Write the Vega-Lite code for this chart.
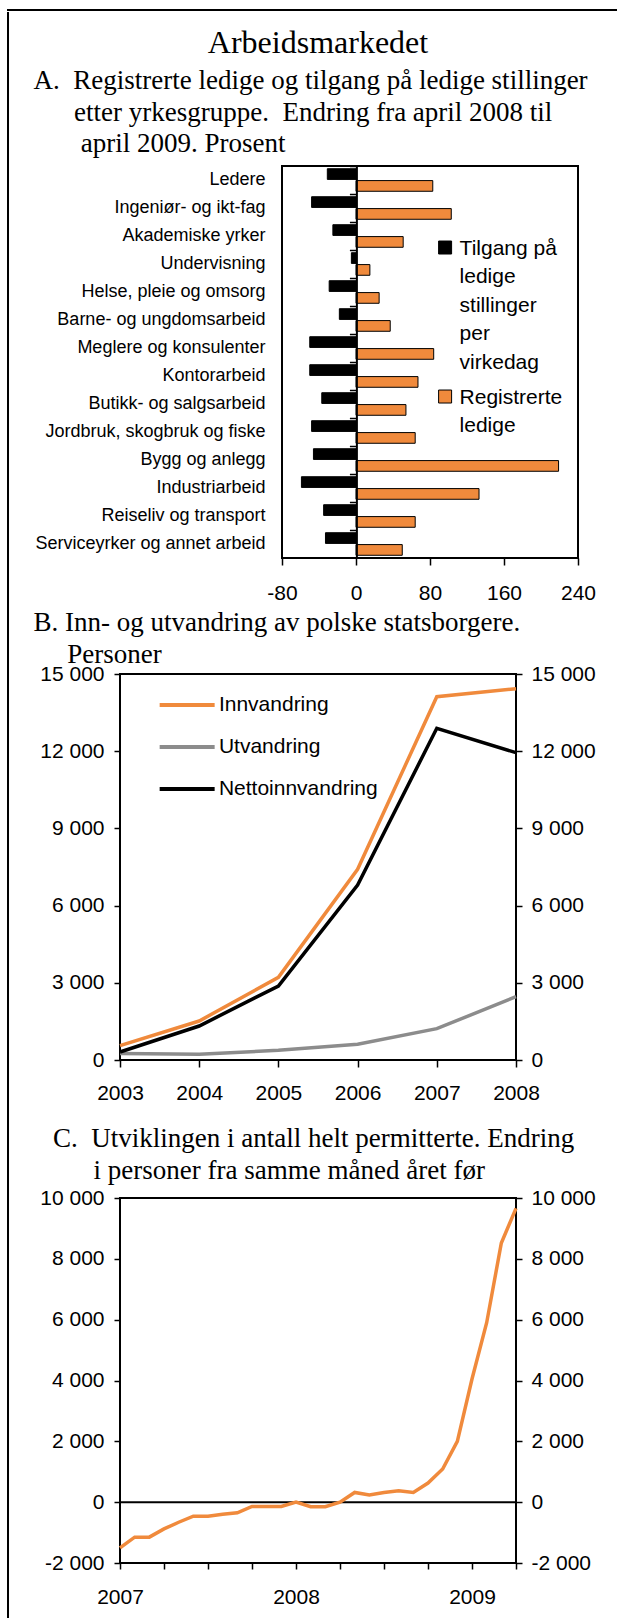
{
  "$schema": "https://vega.github.io/schema/vega-lite/v6.json",
  "padding": {"left": 7, "top": 9, "right": 0, "bottom": 0},
  "background": "white",
  "config": {
    "font": "Liberation Sans",
    "axis": {"labelFont": "Liberation Sans", "labelColor": "black", "labelFontSize": 21, "tickColor": "black", "tickWidth": 1.5, "domainColor": "black", "domainWidth": 2, "grid": false, "labelOverlap": false, "labelLimit": 400, "labelFlush": false},
    "legend": {"labelFont": "Liberation Sans", "labelColor": "black", "labelFontSize": 21, "padding": 0, "labelLimit": 400},
    "title": {"font": "Liberation Serif", "color": "black", "fontWeight": "normal", "fontSize": 27},
    "locale": {"number": {"decimal": ",", "thousands": " ", "grouping": [3], "currency": ["", ""], "minus": "-"}},
    "style": {"guide-label": {"lineHeight": 28.4}}
  },
  "spacing": 0,
  "resolve": {"scale": {"color": "independent"}, "legend": {"color": "independent"}},
  "vconcat": [
    {"width": 608, "height": 0.01, "data": {"values": []}, "mark": "point", "view": {"stroke": "black", "strokeWidth": 2}},
    {
      "spacing": 22,
      "resolve": {"scale": {"color": "independent"}, "legend": {"color": "independent"}},
      "hconcat": [
        {"width": 0.01, "height": 1604, "data": {"values": []}, "mark": "point", "view": {"stroke": "black", "strokeWidth": 2}},
        {
          "spacing": 3,
          "resolve": {"scale": {"color": "independent"}, "legend": {"color": "independent"}},
          "vconcat": [
            {
              "spacing": 7,
              "resolve": {"scale": {"color": "independent"}, "legend": {"color": "independent"}},
              "vconcat": [
                {
                  "width": 396, "height": 15,
                  "data": {"values": []},
                  "mark": "point",
                  "view": {"stroke": null},
                  "title": {"text": "Arbeidsmarkedet", "orient": "bottom", "anchor": "middle", "frame": "group", "fontSize": 32, "offset": 0}
                },
                {
                  "bounds": "flush",
                  "spacing": 0,
                  "resolve": {"scale": {"color": "independent"}, "legend": {"color": "independent"}},
                  "hconcat": [
                    {"width": 162, "height": 392, "data": {"values": []}, "mark": "point", "view": {"stroke": null}},
                    {
                      "width": 296, "height": 392,
                      "title": {"text": ["A.\u00a0\u00a0Registrerte ledige og tilgang på ledige stillinger", "\u200b\u00a0\u00a0\u00a0\u00a0\u00a0\u00a0etter yrkesgruppe.\u00a0\u00a0Endring fra april 2008 til", "\u200b\u00a0\u00a0\u00a0\u00a0\u00a0\u00a0\u00a0april 2009. Prosent"], "anchor": "start", "frame": "group", "dx": -248.5, "lineHeight": 31.5, "offset": 7},
                      "view": {"stroke": "black", "strokeWidth": 2},
                      "data": {"values": [
                        {"yrke": "Ledere", "serie": "Tilgang på ledige stillinger per virkedag", "prosent": -31},
                        {"yrke": "Ledere", "serie": "Registrerte ledige", "prosent": 83},
                        {"yrke": "Ingeniør- og ikt-fag", "serie": "Tilgang på ledige stillinger per virkedag", "prosent": -48},
                        {"yrke": "Ingeniør- og ikt-fag", "serie": "Registrerte ledige", "prosent": 103},
                        {"yrke": "Akademiske yrker", "serie": "Tilgang på ledige stillinger per virkedag", "prosent": -25},
                        {"yrke": "Akademiske yrker", "serie": "Registrerte ledige", "prosent": 51},
                        {"yrke": "Undervisning", "serie": "Tilgang på ledige stillinger per virkedag", "prosent": -5},
                        {"yrke": "Undervisning", "serie": "Registrerte ledige", "prosent": 15},
                        {"yrke": "Helse, pleie og omsorg", "serie": "Tilgang på ledige stillinger per virkedag", "prosent": -29},
                        {"yrke": "Helse, pleie og omsorg", "serie": "Registrerte ledige", "prosent": 25},
                        {"yrke": "Barne- og ungdomsarbeid", "serie": "Tilgang på ledige stillinger per virkedag", "prosent": -18},
                        {"yrke": "Barne- og ungdomsarbeid", "serie": "Registrerte ledige", "prosent": 37},
                        {"yrke": "Meglere og konsulenter", "serie": "Tilgang på ledige stillinger per virkedag", "prosent": -50},
                        {"yrke": "Meglere og konsulenter", "serie": "Registrerte ledige", "prosent": 84},
                        {"yrke": "Kontorarbeid", "serie": "Tilgang på ledige stillinger per virkedag", "prosent": -50},
                        {"yrke": "Kontorarbeid", "serie": "Registrerte ledige", "prosent": 67},
                        {"yrke": "Butikk- og salgsarbeid", "serie": "Tilgang på ledige stillinger per virkedag", "prosent": -37},
                        {"yrke": "Butikk- og salgsarbeid", "serie": "Registrerte ledige", "prosent": 54},
                        {"yrke": "Jordbruk, skogbruk og fiske", "serie": "Tilgang på ledige stillinger per virkedag", "prosent": -48},
                        {"yrke": "Jordbruk, skogbruk og fiske", "serie": "Registrerte ledige", "prosent": 64},
                        {"yrke": "Bygg og anlegg", "serie": "Tilgang på ledige stillinger per virkedag", "prosent": -46},
                        {"yrke": "Bygg og anlegg", "serie": "Registrerte ledige", "prosent": 219},
                        {"yrke": "Industriarbeid", "serie": "Tilgang på ledige stillinger per virkedag", "prosent": -59},
                        {"yrke": "Industriarbeid", "serie": "Registrerte ledige", "prosent": 133},
                        {"yrke": "Reiseliv og transport", "serie": "Tilgang på ledige stillinger per virkedag", "prosent": -35},
                        {"yrke": "Reiseliv og transport", "serie": "Registrerte ledige", "prosent": 64},
                        {"yrke": "Serviceyrker og annet arbeid", "serie": "Tilgang på ledige stillinger per virkedag", "prosent": -33},
                        {"yrke": "Serviceyrker og annet arbeid", "serie": "Registrerte ledige", "prosent": 50}
                      ]},
                      "layer": [
                        {
                          "mark": {"type": "bar", "stroke": "black", "strokeWidth": 1},
                          "encoding": {
                            "y": {"field": "yrke", "type": "nominal", "sort": null, "scale": {"paddingInner": 0, "paddingOuter": 0}, "axis": {"title": null, "ticks": false, "tickSize": 0, "domain": false, "labelPadding": 17, "labelFontSize": 18}},
                            "yOffset": {"field": "serie", "type": "nominal", "sort": ["Tilgang på ledige stillinger per virkedag", "Registrerte ledige"], "scale": {"paddingInner": 0.1, "paddingOuter": 0.23}},
                            "x": {"field": "prosent", "type": "quantitative", "scale": {"domain": [-80, 240], "nice": false}, "axis": {"title": null, "values": [-80, 0, 80, 160, 240], "domain": false, "tickSize": 7, "labelPadding": 17}},
                            "color": {"field": "serie", "type": "nominal", "scale": {"domain": ["Tilgang på ledige stillinger per virkedag", "Registrerte ledige"], "range": ["black", "#F08A3C"]},
                              "legend": {"orient": "none", "legendX": 152.6, "legendY": 78.5, "title": null, "symbolType": "M-1,-2.15H1V-0.15H-1Z", "symbolSize": 169, "symbolStrokeColor": "black", "symbolStrokeWidth": 1, "labelBaseline": "alphabetic", "labelOffset": 4, "rowPadding": 13,
                                "labelExpr": "datum.label == 'Registrerte ledige' ? ['Registrerte', 'ledige'] : ['Tilgang på', 'ledige', 'stillinger', 'per', 'virkedag']"}}
                          }
                        },
                        {
                          "mark": {"type": "point", "opacity": 0},
                          "encoding": {
                            "y": {"field": "yrke", "type": "nominal", "sort": null, "axis": {"title": null, "orient": "left", "offset": -74.4, "labels": false, "ticks": true, "tickSize": 7, "domain": true, "domainWidth": 2, "bandPosition": 0, "zindex": 2}}
                          }
                        }
                      ],
                      "resolve": {"axis": {"y": "independent"}}
                    }
                  ]
                }
              ]
            },
            {
              "spacing": 18,
              "resolve": {"scale": {"color": "independent"}, "legend": {"color": "independent"}},
              "vconcat": [
                {
                  "width": 396, "height": 386,
                  "title": {"text": ["B. Inn- og utvandring av polske statsborgere.", "\u200b\u00a0\u00a0\u00a0\u00a0\u00a0Personer"], "anchor": "start", "frame": "group", "dx": -86.6, "lineHeight": 32.3, "offset": -6},
                  "view": {"stroke": "black", "strokeWidth": 2},
                  "data": {"values": [
                    {"ar": 2003, "serie": "Innvandring", "personer": 556},
                    {"ar": 2004, "serie": "Innvandring", "personer": 1515},
                    {"ar": 2005, "serie": "Innvandring", "personer": 3213},
                    {"ar": 2006, "serie": "Innvandring", "personer": 7410},
                    {"ar": 2007, "serie": "Innvandring", "personer": 14118},
                    {"ar": 2008, "serie": "Innvandring", "personer": 14429},
                    {"ar": 2003, "serie": "Utvandring", "personer": 250},
                    {"ar": 2004, "serie": "Utvandring", "personer": 221},
                    {"ar": 2005, "serie": "Utvandring", "personer": 377},
                    {"ar": 2006, "serie": "Utvandring", "personer": 610},
                    {"ar": 2007, "serie": "Utvandring", "personer": 1217},
                    {"ar": 2008, "serie": "Utvandring", "personer": 2460},
                    {"ar": 2003, "serie": "Nettoinnvandring", "personer": 311},
                    {"ar": 2004, "serie": "Nettoinnvandring", "personer": 1321},
                    {"ar": 2005, "serie": "Nettoinnvandring", "personer": 2876},
                    {"ar": 2006, "serie": "Nettoinnvandring", "personer": 6800},
                    {"ar": 2007, "serie": "Nettoinnvandring", "personer": 12889},
                    {"ar": 2008, "serie": "Nettoinnvandring", "personer": 11942}
                  ]},
                  "layer": [
                    {
                      "data": {"values": [{}]},
                      "mark": {"type": "rule", "color": "black", "strokeWidth": 2},
                      "encoding": {
                        "y": {"datum": 0, "type": "quantitative", "scale": {"domain": [0, 15000], "nice": false}, "axis": {"orient": "right", "title": null, "values": [0, 3000, 6000, 9000, 12000, 15000], "format": ",d", "tickSize": 6, "labelPadding": 9, "domain": false}}
                      }
                    },
                    {
                      "mark": {"type": "line", "strokeWidth": 3.5},
                      "encoding": {
                        "x": {"field": "ar", "type": "quantitative", "scale": {"domain": [2003, 2008], "nice": false}, "axis": {"title": null, "values": [2003, 2004, 2005, 2006, 2007, 2008], "format": "d", "tickSize": 7, "labelPadding": 15.5, "domain": false}},
                        "y": {"field": "personer", "type": "quantitative", "axis": {"orient": "left", "title": null, "values": [0, 3000, 6000, 9000, 12000, 15000], "format": ",d", "tickSize": 6, "labelPadding": 10, "domain": false}},
                        "color": {"field": "serie", "type": "nominal", "scale": {"domain": ["Innvandring", "Utvandring", "Nettoinnvandring"], "range": ["#F08A3C", "#8C8C8C", "black"]},
                          "legend": {"orient": "none", "legendX": 37.4, "legendY": 15, "title": null, "symbolType": "M-1,0H3", "symbolSize": 756, "symbolStrokeWidth": 4, "labelOffset": 29.5, "rowPadding": 16}}
                      }
                    }
                  ],
                  "resolve": {"axis": {"y": "independent"}}
                },
                {
                  "width": 396, "height": 365,
                  "title": {"text": ["C.\u00a0\u00a0Utviklingen i antall helt permitterte. Endring", "\u200b\u00a0\u00a0\u00a0\u00a0\u00a0\u00a0i personer fra samme måned året før"], "anchor": "start", "frame": "group", "dx": -66.9, "lineHeight": 32.3, "offset": 2},
                  "view": {"stroke": "black", "strokeWidth": 2},
                  "data": {"values": [
                    {"month": "2007-01", "endring": -1500},
                    {"month": "2007-02", "endring": -1150},
                    {"month": "2007-03", "endring": -1150},
                    {"month": "2007-04", "endring": -880},
                    {"month": "2007-05", "endring": -660},
                    {"month": "2007-06", "endring": -460},
                    {"month": "2007-07", "endring": -460},
                    {"month": "2007-08", "endring": -400},
                    {"month": "2007-09", "endring": -350},
                    {"month": "2007-10", "endring": -140},
                    {"month": "2007-11", "endring": -140},
                    {"month": "2007-12", "endring": -140},
                    {"month": "2008-01", "endring": 0},
                    {"month": "2008-02", "endring": -150},
                    {"month": "2008-03", "endring": -150},
                    {"month": "2008-04", "endring": 0},
                    {"month": "2008-05", "endring": 320},
                    {"month": "2008-06", "endring": 240},
                    {"month": "2008-07", "endring": 320},
                    {"month": "2008-08", "endring": 375},
                    {"month": "2008-09", "endring": 320},
                    {"month": "2008-10", "endring": 630},
                    {"month": "2008-11", "endring": 1090},
                    {"month": "2008-12", "endring": 2000},
                    {"month": "2009-01", "endring": 4050},
                    {"month": "2009-02", "endring": 5900},
                    {"month": "2009-03", "endring": 8520},
                    {"month": "2009-04", "endring": 9660}
                  ]},
                  "layer": [
                    {
                      "data": {"values": [{}]},
                      "mark": {"type": "rule", "color": "black", "strokeWidth": 2},
                      "encoding": {
                        "y": {"datum": 0, "type": "quantitative", "scale": {"domain": [-2000, 10000], "nice": false}, "axis": {"orient": "right", "title": null, "values": [-2000, 0, 2000, 4000, 6000, 8000, 10000], "format": ",d", "tickSize": 6, "labelPadding": 9, "domain": false}}
                      }
                    },
                    {
                      "mark": {"type": "line", "strokeWidth": 3.5, "color": "#F08A3C"},
                      "encoding": {
                        "x": {"field": "month", "type": "ordinal", "sort": null, "scale": {"type": "point", "padding": 0}, "axis": {"title": null, "values": ["2007-01", "2007-04", "2007-07", "2007-10", "2008-01", "2008-04", "2008-07", "2008-10", "2009-01", "2009-04"], "labelExpr": "substring(datum.value, 5, 7) == '01' ? substring(datum.value, 0, 4) : ''", "labelAngle": 0, "tickSize": 6, "labelPadding": 17.5, "domain": false}},
                        "y": {"field": "endring", "type": "quantitative", "axis": {"orient": "left", "title": null, "values": [-2000, 0, 2000, 4000, 6000, 8000, 10000], "format": ",d", "tickSize": 6, "labelPadding": 10, "domain": false}}
                      }
                    }
                  ],
                  "resolve": {"axis": {"y": "independent"}}
                }
              ]
            }
          ]
        }
      ]
    }
  ]
}
